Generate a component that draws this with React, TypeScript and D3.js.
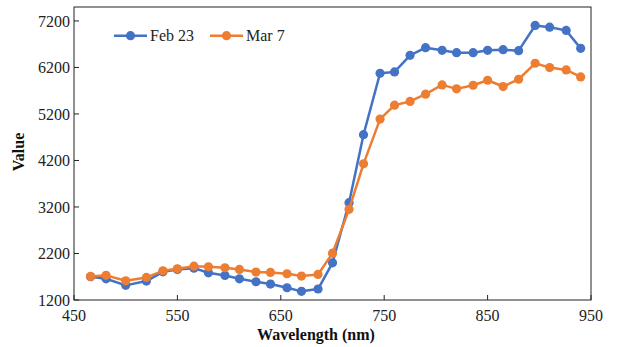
import React from "react";
import * as d3 from "d3";

const wavelengths = [466, 481, 500, 520, 536, 550, 566, 580, 596, 610, 626, 640, 656, 670, 686, 700, 716, 730, 746, 760, 775, 790, 806, 820, 836, 850, 865, 880, 896, 910, 926, 940];
const feb23 = [1700, 1656, 1515, 1607, 1806, 1857, 1885, 1785, 1728, 1656, 1592, 1543, 1463, 1386, 1436, 1999, 3292, 4755, 6075, 6104, 6460, 6625, 6568, 6518, 6518, 6568, 6582, 6561, 7103, 7067, 6996, 6611];
const mar7 = [1707, 1730, 1613, 1686, 1828, 1870, 1928, 1914, 1893, 1857, 1800, 1793, 1764, 1714, 1750, 2206, 3149, 4127, 5090, 5390, 5470, 5626, 5825, 5740, 5818, 5925, 5790, 5946, 6290, 6197, 6146, 5996];
const xTicks = [450, 550, 650, 750, 850, 950];
const yTicks = [1200, 2200, 3200, 4200, 5200, 6200, 7200];
const seriesNames = ["Feb 23", "Mar 7"];
const seriesColors = ["#4472C4", "#ED7D31"];

const W = 620, H = 347;
const L = 74, R = 591, T = 7, B = 300;
const FONT = "'Liberation Serif', 'Times New Roman', serif";

export default function App() {
  const x = d3.scaleLinear().domain([450, 950]).range([L, R]);
  const y = d3.scaleLinear().domain([1200, 7500]).range([B, T]);
  const line = d3.line<number>().x((_, i) => x(wavelengths[i])).y((d) => y(d));
  const series = [feb23, mar7];

  return (
    <svg width={W} height={H} style={{ position: "absolute", left: 0, top: 0, display: "block", background: "#fff" }} fontFamily={FONT}>
      <rect x={L} y={T} width={R - L} height={B - T} fill="none" stroke="#222" strokeWidth={1} />
      {yTicks.map((t) => (
        <g key={"y" + t}>
          <line x1={L} x2={L + 5} y1={y(t)} y2={y(t)} stroke="#222" strokeWidth={1} />
          <text x={L - 4} y={y(t)} dy="0.35em" textAnchor="end" fontSize={16} fill="#222">{t}</text>
        </g>
      ))}
      {xTicks.map((t) => (
        <g key={"x" + t}>
          <line x1={x(t)} x2={x(t)} y1={B} y2={B - 5} stroke="#222" strokeWidth={1} />
          <text x={x(t)} y={B + 21} textAnchor="middle" fontSize={16} fill="#222">{t}</text>
        </g>
      ))}
      <text x={316} y={340} textAnchor="middle" fontSize={16} fontWeight="bold" fill="#111">Wavelength (nm)</text>
      <text transform={`translate(24,152) rotate(-90)`} textAnchor="middle" fontSize={16} fontWeight="bold" fill="#111">Value</text>
      {series.map((s, k) => (
        <g key={"s" + k}>
          <path d={line(s) || ""} fill="none" stroke={seriesColors[k]} strokeWidth={2.5} strokeLinejoin="round" />
          {s.map((v, i) => (
            <circle key={i} cx={x(wavelengths[i])} cy={y(v)} r={4.6} fill={seriesColors[k]} />
          ))}
        </g>
      ))}
      {seriesNames.map((n, k) => {
        const lx = [114, 210][k];
        return (
          <g key={"l" + k}>
            <line x1={lx} x2={lx + 33} y1={35.7} y2={35.7} stroke={seriesColors[k]} strokeWidth={2.5} />
            <circle cx={lx + 16.5} cy={35.7} r={4.6} fill={seriesColors[k]} />
            <text x={lx + 36} y={35.7} dy="0.35em" fontSize={16} fill="#222">{n}</text>
          </g>
        );
      })}
    </svg>
  );
}
